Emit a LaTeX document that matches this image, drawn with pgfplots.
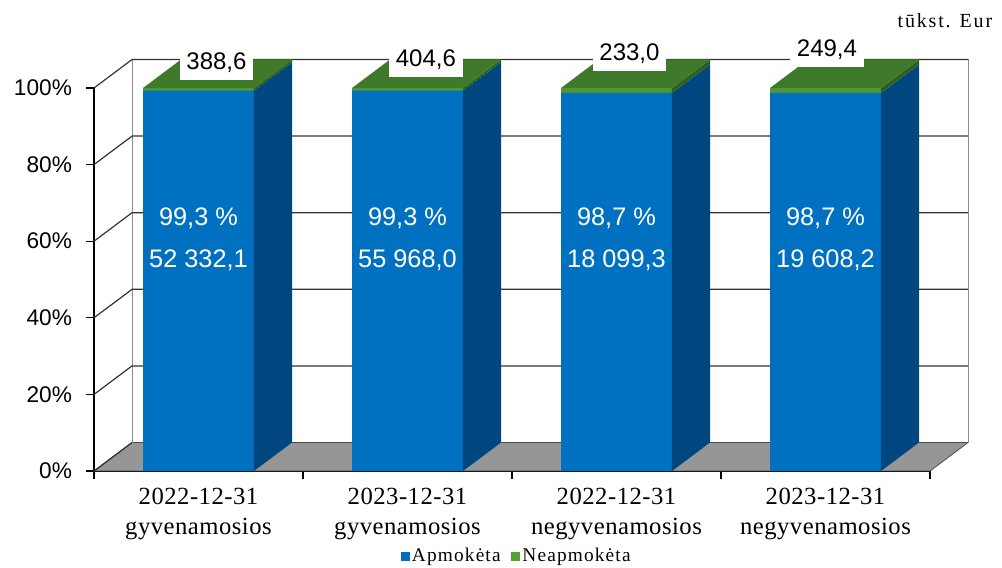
\documentclass[border=0pt]{standalone}
\usepackage{pgfplots}
\pgfplotsset{compat=1.18}
\usepackage{fontspec}
\setmainfont{Liberation Serif}
\newfontfamily\sans{Liberation Sans}
\newfontfamily\catfont[LetterSpace=2]{Liberation Serif}
\newfontfamily\legfont[LetterSpace=6]{Liberation Serif}
\newfontfamily\unitfont[LetterSpace=9]{Liberation Serif}

\definecolor{bfront}{RGB}{0,112,192}
\definecolor{bside}{RGB}{0,70,127}
\definecolor{gfront}{RGB}{80,150,50}
\definecolor{gtop}{RGB}{62,122,42}
\definecolor{gside}{RGB}{45,95,30}
\definecolor{floorgray}{RGB}{150,150,150}
\definecolor{leggreen}{RGB}{84,160,50}

\begin{document}
\begin{tikzpicture}
\path[use as bounding box] (0,0) rectangle (751.5pt,425.25pt);
\begin{axis}[
  at={(70.5pt,72pt)}, anchor=south west,
  width=627pt, height=287.25pt, scale only axis,
  xmin=-0.5, xmax=3.5, ymin=0, ymax=100,
  clip=false,
  axis lines*=left,
  axis line style={line width=0.9pt},
  tick align=outside,
  major tick length=6pt,
  tick style={line width=0.9pt, black},
  ytick={0,20,40,60,80,100},
  yticklabels={0\%,20\%,40\%,60\%,80\%,100\%},
  yticklabel style={font=\sans\fontsize{17}{20}\selectfont, xshift=-7pt},
  xtick={-0.5,0.5,1.5,2.5,3.5},
  xticklabels={},
  extra x ticks={0,1,2,3},
  extra x tick labels={{2022-12-31\\gyvenamosios},{2023-12-31\\gyvenamosios},{2022-12-31\\negyvenamosios},{2023-12-31\\negyvenamosios}},
  extra x tick style={major tick length=0pt},
  xticklabel style={align=center, font=\catfont\fontsize{18.5}{22.5}\selectfont, yshift=-9pt},
  legend style={draw=none, fill=none, at={(0.506,-0.222)}, anchor=center,
    legend columns=2, font=\legfont\fontsize{14.5}{16}\selectfont,
    /tikz/every even column/.append style={column sep=6pt}},
  legend cell align=left,
]
% floor
\addplot[fill=floorgray, draw=black!70, line width=0.6pt, forget plot]
  coordinates {(-0.5,0) (3.5,0) (3.682,7.44) (-0.318,7.44)} -- cycle;
% back wall edges
\addplot[black!45, line width=0.8pt, forget plot, unbounded coords=jump] coordinates {
  (-0.318,7.44) (-0.318,107.44) (0,nan)
  (3.682,7.44) (3.682,107.44)
};
% back wall grid lines and side diagonals
\addplot[black!80, line width=0.9pt, forget plot, unbounded coords=jump] coordinates {
  (-0.318,27.44) (3.682,27.44) (0,nan)
  (-0.318,47.44) (3.682,47.44) (0,nan)
  (-0.318,67.44) (3.682,67.44) (0,nan)
  (-0.318,87.44) (3.682,87.44) (0,nan)
  (-0.318,107.44) (3.682,107.44) (0,nan)
  (-0.5,0) (-0.318,7.44) (0,nan)
  (-0.5,20) (-0.318,27.44) (0,nan)
  (-0.5,40) (-0.318,47.44) (0,nan)
  (-0.5,60) (-0.318,67.44) (0,nan)
  (-0.5,80) (-0.318,87.44) (0,nan)
  (-0.5,100) (-0.318,107.44)
};
% front faces: Neapmokėta on top of Apmokėta (shares in %)
\addplot[ybar, bar width=0.531, bar shift=0, fill=gfront, draw=none, forget plot]
  coordinates {(0,100) (1,100) (2,100) (3,100)};
\addplot[ybar, bar width=0.531, bar shift=0, fill=bfront, draw=none, forget plot]
  coordinates {(0,99.3) (1,99.3) (2,98.7) (3,98.7)};
% side faces
\addplot[fill=bside, draw=none, forget plot] coordinates {(0.2655,0) (0.4475,7.44) (0.4475,106.74) (0.2655,99.3)} -- cycle;
\addplot[fill=bside, draw=none, forget plot] coordinates {(1.2655,0) (1.4475,7.44) (1.4475,106.74) (1.2655,99.3)} -- cycle;
\addplot[fill=bside, draw=none, forget plot] coordinates {(2.2655,0) (2.4475,7.44) (2.4475,106.14) (2.2655,98.7)} -- cycle;
\addplot[fill=bside, draw=none, forget plot] coordinates {(3.2655,0) (3.4475,7.44) (3.4475,106.14) (3.2655,98.7)} -- cycle;
\addplot[fill=gside, draw=none, forget plot] coordinates {(0.2655,99.3) (0.4475,106.74) (0.4475,107.44) (0.2655,100)} -- cycle;
\addplot[fill=gside, draw=none, forget plot] coordinates {(1.2655,99.3) (1.4475,106.74) (1.4475,107.44) (1.2655,100)} -- cycle;
\addplot[fill=gside, draw=none, forget plot] coordinates {(2.2655,98.7) (2.4475,106.14) (2.4475,107.44) (2.2655,100)} -- cycle;
\addplot[fill=gside, draw=none, forget plot] coordinates {(3.2655,98.7) (3.4475,106.14) (3.4475,107.44) (3.2655,100)} -- cycle;
% top faces
\addplot[fill=gtop, draw=none, forget plot] coordinates {(-0.2655,100) (0.2655,100) (0.4475,107.44) (-0.0835,107.44)} -- cycle;
\addplot[fill=gtop, draw=none, forget plot] coordinates {(0.7345,100) (1.2655,100) (1.4475,107.44) (0.9165,107.44)} -- cycle;
\addplot[fill=gtop, draw=none, forget plot] coordinates {(1.7345,100) (2.2655,100) (2.4475,107.44) (1.9165,107.44)} -- cycle;
\addplot[fill=gtop, draw=none, forget plot] coordinates {(2.7345,100) (3.2655,100) (3.4475,107.44) (2.9165,107.44)} -- cycle;
% labels inside bars
\addplot[draw=none, mark=none, forget plot, nodes near coords, point meta=explicit symbolic,
  nodes near coords align={anchor=center},
  every node near coord/.append style={anchor=center, text=white, font=\sans\fontsize{19}{21}\selectfont}]
  coordinates {(0,66.1) [99,3 \%] (1,66.1) [99,3 \%] (2,66.1) [98,7 \%] (3,66.1) [98,7 \%]
               (0,55.1) [52\ 332,1] (1,55.1) [55\ 968,0] (2,55.1) [18\ 099,3] (3,55.1) [19\ 608,2]};
% Neapmokėta values on top
\addplot[draw=none, mark=none, forget plot, nodes near coords, point meta=explicit symbolic,
  nodes near coords align={anchor=center},
  every node near coord/.append style={anchor=center, fill=white, inner xsep=5pt, inner ysep=5.5pt, font=\sans\fontsize{18}{20}\selectfont}]
  coordinates {(0.086,106.7) [388,6] (1.088,107.3) [404,6] (2.062,108.9) [233,0] (3.007,110.0) [249,4]};
\addlegendimage{legend image code/.code={\fill[bfront] (0pt,-3pt) rectangle (6pt,3pt);}}
\addlegendentry{Apmokėta}
\addlegendimage{legend image code/.code={\fill[leggreen] (0pt,-3pt) rectangle (6pt,3pt);}}
\addlegendentry{Neapmokėta}
\node[anchor=east, font=\unitfont\fontsize{15}{17}\selectfont] at (rel axis cs:1.08,1.175) {tūkst. Eur};
\end{axis}
\end{tikzpicture}
\end{document}
